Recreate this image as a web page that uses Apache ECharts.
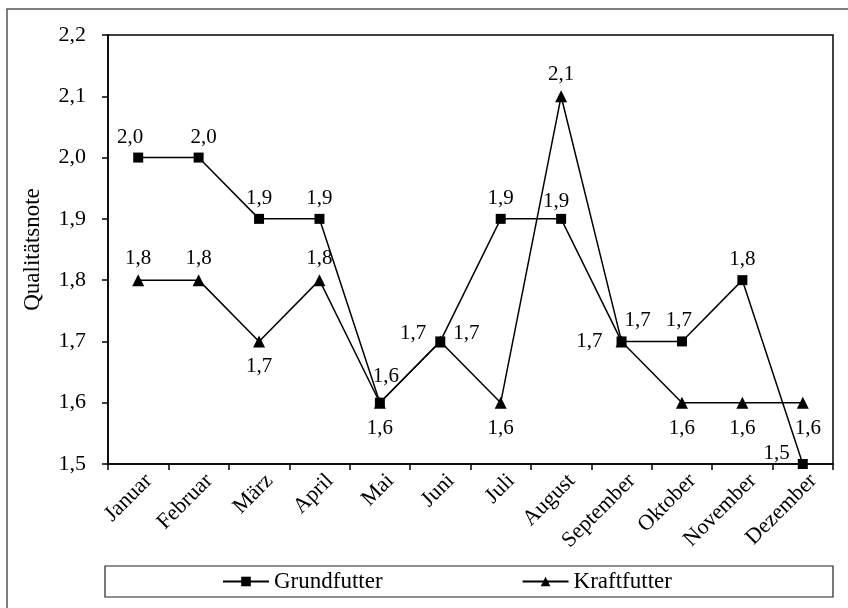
<!DOCTYPE html>
<html>
<head>
<meta charset="utf-8">
<script src="https://cdn.jsdelivr.net/npm/echarts@6/dist/echarts.min.js"></script>
<style>
html,body{margin:0;padding:0;background:#fff;}
#chart{width:848px;height:608px;}
</style>
</head>
<body>
<div id="chart"></div>
<script>
const months = ['Januar','Februar','März','April','Mai','Juni','Juli','August','September','Oktober','November','Dezember'];
const grundfutter = [2.0, 2.0, 1.9, 1.9, 1.6, 1.7, 1.9, 1.9, 1.7, 1.7, 1.8, 1.5];
const kraftfutter = [1.8, 1.8, 1.7, 1.8, 1.6, 1.7, 1.6, 2.1, 1.7, 1.6, 1.6, 1.6];
const yTicks = [1.5, 1.6, 1.7, 1.8, 1.9, 2.0, 2.1, 2.2];

// label placement per point (style only)
const gPos = ['top','top','top','top','top','right','top','top','top','top','top','left'];
const gOff = [[-8,0],[5,0],[0,0],[0,0],[6,-6],[0,-8],[0,0],[-5,3],[16,0],[-3,0],[0,0],[0,-11]];
const kPos = ['top','top','bottom','top','bottom','left','bottom','top','left','bottom','bottom','bottom'];
const kOff = [[0,0],[0,0],[0,0],[0,0],[0,0],[0,-8],[0,0],[0,0],[-5,0],[0,0],[0,0],[5,0]];

const FONT = '"Liberation Serif","Times New Roman",serif';
const fmt = v => v.toFixed(1).replace('.', ',');

function build(vals, pos, off) {
  return vals.map((v, i) => ({
    value: v,
    label: { position: pos[i], offset: off[i], distance: pos[i] === 'bottom' ? 9 : (pos[i]==='left'||pos[i]==='right' ? 8 : 5) }
  }));
}

const chart = echarts.init(document.getElementById('chart'));
chart.setOption({
  animation: false,
  backgroundColor: '#fff',
  textStyle: { fontFamily: FONT, color: '#000' },
  graphic: [
    { type: 'rect', shape: { x: 7, y: 9, width: 870, height: 620 }, style: { fill: 'none', stroke: '#555', lineWidth: 1.5 }, silent: true, z: -1 },
    { type: 'rect', shape: { x: 105, y: 566, width: 728, height: 31 }, style: { fill: 'none', stroke: '#222', lineWidth: 1.2 }, silent: true, z: -1 }
  ],
  grid: { left: 108, top: 35, right: 15, bottom: 144, show: true, borderColor: '#000', borderWidth: 1.5, backgroundColor: 'transparent' },
  legend: {
    left: 222, top: 570, padding: 0, itemGap: 139, itemWidth: 46, itemHeight: 12,
    textStyle: { fontFamily: FONT, fontSize: 23, color: '#000' },
    data: ['Grundfutter', 'Kraftfutter']
  },
  xAxis: {
    type: 'category', data: months, boundaryGap: true,
    axisLine: { lineStyle: { color: '#000', width: 1.5 } },
    axisTick: { show: true, alignWithLabel: false, length: 6, lineStyle: { color: '#000', width: 1.5 } },
    axisLabel: { rotate: 45, interval: 0, fontFamily: FONT, fontSize: 22, color: '#000', margin: 3,
      verticalAlign: 'top', lineHeight: 30 },
    splitLine: { show: false }
  },
  yAxis: {
    type: 'value', min: 1.5, max: 2.2, interval: 0.1,
    name: 'Qualitätsnote', nameLocation: 'middle', nameGap: 64,
    nameTextStyle: { fontFamily: FONT, fontSize: 23, color: '#000' },
    axisLine: { show: true, lineStyle: { color: '#000', width: 1.5 } },
    axisTick: { show: true, length: 6, lineStyle: { color: '#000', width: 1.5 } },
    axisLabel: { fontFamily: FONT, fontSize: 22, color: '#000', margin: 22,
      formatter: v => { const t = yTicks.find(x => Math.abs(x - v) < 1e-6); return t !== undefined ? fmt(t) : ''; } },
    splitLine: { show: false }
  },
  series: [
    {
      name: 'Grundfutter', type: 'line', data: build(grundfutter, gPos, gOff),
      symbol: 'rect', symbolSize: 10,
      lineStyle: { color: '#000', width: 1.5 }, itemStyle: { color: '#000' },
      label: { show: true, fontFamily: FONT, fontSize: 21, color: '#000', formatter: p => fmt(p.value) },
      z: 3
    },
    {
      name: 'Kraftfutter', type: 'line', data: build(kraftfutter, kPos, kOff),
      symbol: 'triangle', symbolSize: 12,
      lineStyle: { color: '#000', width: 1.5 }, itemStyle: { color: '#000' },
      label: { show: true, fontFamily: FONT, fontSize: 21, color: '#000', formatter: p => fmt(p.value) },
      z: 2
    }
  ]
});
</script>
</body>
</html>
